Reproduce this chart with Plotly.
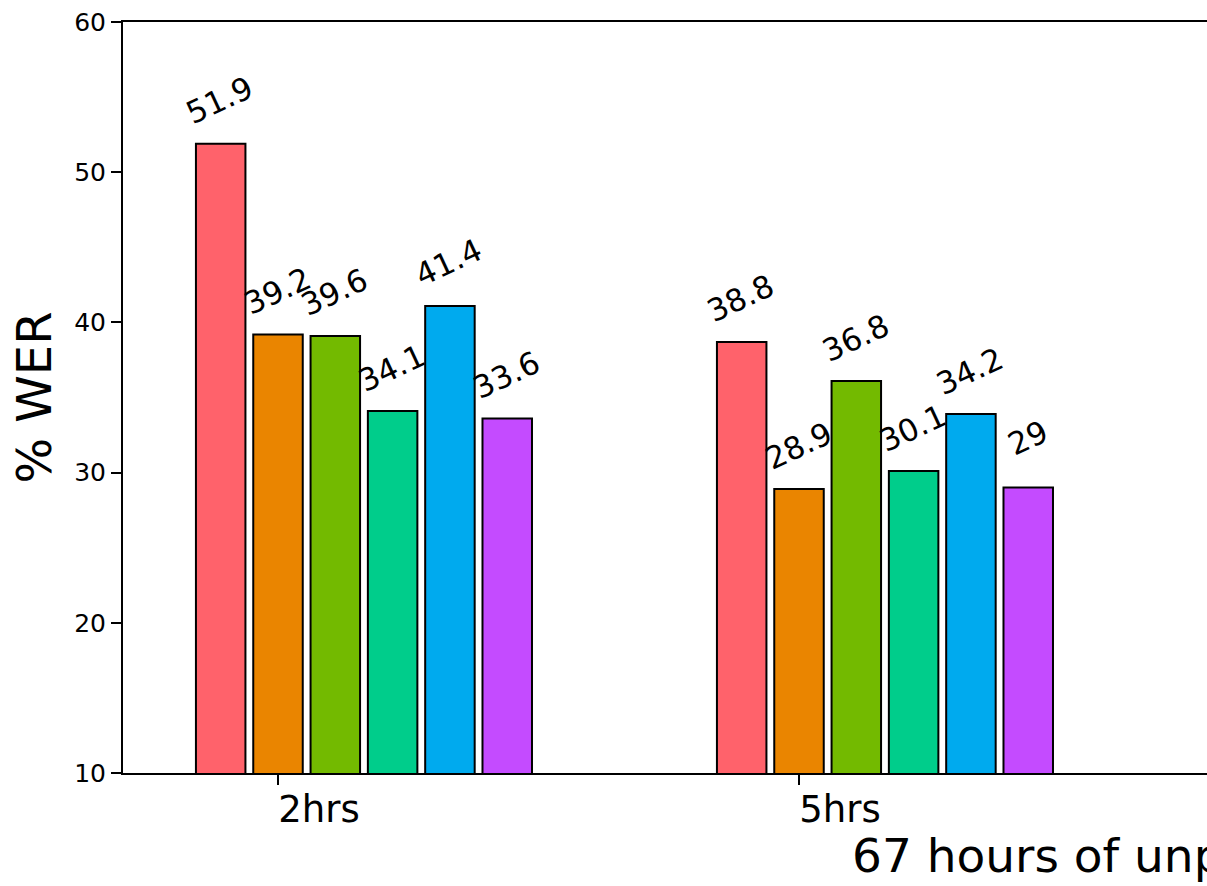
import plotly.graph_objects as go

# ---- data ----
groups = ["2hrs", "5hrs"]
group_pos = [0, 1]
series_names = ["S1", "S2", "S3", "S4", "S5", "S6"]
series_colors = ["#FF626B", "#EA8500", "#73BA00", "#00CD8B", "#00AAEE", "#C44BFF"]
# bar heights as drawn
bar_values = [
    [51.9, 38.7],
    [39.2, 28.9],
    [39.1, 36.1],
    [34.1, 30.1],
    [41.1, 33.9],
    [33.6, 29.0],
]
# value labels as printed
bar_labels = [
    ["51.9", "38.8"],
    ["39.2", "28.9"],
    ["39.6", "36.8"],
    ["34.1", "30.1"],
    ["41.4", "34.2"],
    ["33.6", "29"],
]
y_ticks = [10, 20, 30, 40, 50, 60]
y_title = "% WER"
x_title = "67 hours of unpaired data"

# ---- layout constants ----
W, H = 1207, 886
ML, MR, MT, MB = 123, 0, 22, 113
step = 0.11
bw = 0.095
FONT = "DejaVu Sans"

fig = go.Figure()
annotations = []
for i, (name, col, vals, labs) in enumerate(zip(series_names, series_colors, bar_values, bar_labels)):
    off = (i - 1) * step
    fig.add_trace(go.Bar(
        x=group_pos, y=vals, name=name, width=bw, offset=off - bw / 2,
        marker=dict(color=col, line=dict(color="black", width=2)),
        showlegend=False, hoverinfo="skip",
    ))
    for gx, v, t in zip(group_pos, vals, labs):
        annotations.append(dict(
            x=gx + off, y=v, xref="x", yref="y", text=t, showarrow=False,
            textangle=-25, xanchor="center", yanchor="top", yshift=77, xshift=-1,
            font=dict(family=FONT, size=31, color="black"),
        ))

pw = W - ML - MR
ph = H - MT - MB
annotations.append(dict(
    x=(33 - ML) / pw, y=0.5, xref="paper", yref="paper", text=y_title,
    textangle=-90, showarrow=False, xanchor="center", yanchor="middle",
    font=dict(family=FONT, size=48, color="black"),
))
annotations.append(dict(
    x=(850 - ML) / pw, y=-(855 - (H - MB)) / ph, xref="paper", yref="paper",
    text=x_title, showarrow=False, xanchor="left", yanchor="middle",
    font=dict(family=FONT, size=47, color="black"),
))

x0 = (ML - 278) / 521.0
x1 = (W - 278) / 521.0
fig.update_layout(
    width=W, height=H,
    margin=dict(l=ML, r=MR, t=MT, b=MB, pad=0),
    paper_bgcolor="white", plot_bgcolor="white",
    barmode="overlay",
    annotations=annotations,
    font=dict(family=FONT, color="black"),
    xaxis=dict(
        range=[x0, x1], tickmode="array", tickvals=group_pos, ticktext=groups,
        showgrid=False, zeroline=False, showline=True, linecolor="black", linewidth=2,
        mirror=True, ticks="outside", ticklen=10, tickwidth=2, tickcolor="black",
        tickfont=dict(family=FONT, size=37, color="black"), ticklabelshift=41,
        ticklabelstandoff=-7,
    ),
    yaxis=dict(
        range=[10, 60], tickmode="array", tickvals=y_ticks,
        showgrid=False, zeroline=False, showline=True, linecolor="black", linewidth=2,
        mirror=False, ticks="outside", ticklen=10, tickwidth=2, tickcolor="black",
        tickfont=dict(family=FONT, size=25, color="black"),
    ),
)
fig.write_html(
    "out.html",
    config={"displayModeBar": False},
    post_script="document.body.style.margin='0px';document.body.style.overflow='hidden';",
)
